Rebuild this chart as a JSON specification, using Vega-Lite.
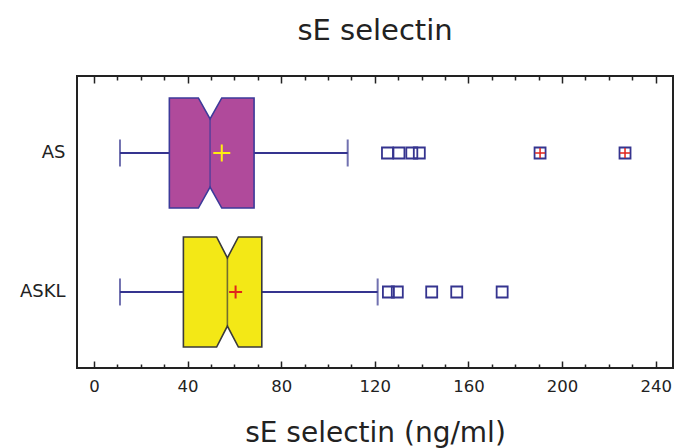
{
  "$schema": "https://vega.github.io/schema/vega-lite/v6.json",
  "width": 596,
  "height": 292,
  "autosize": {"type": "none"},
  "padding": {"left": 77, "top": 76, "right": 3, "bottom": 80},
  "background": "white",
  "title": {"text": "sE selectin", "font": "DejaVu Sans", "fontSize": 29, "fontWeight": "normal", "color": "#222222", "baseline": "alphabetic", "offset": 6, "anchor": "middle"},
  "config": {
    "view": {"stroke": "#222222", "strokeWidth": 2},
    "axis": {"grid": false, "domain": false, "labelFont": "DejaVu Sans", "titleFont": "DejaVu Sans", "labelColor": "#222222", "titleColor": "#222222", "tickColor": "#222222", "tickWidth": 1.5}
  },
  "datasets": {
    "stats": [
      {"group": "AS", "lw": 11.1, "q1": 32.2, "nlo": 44.6, "med": 49.6, "nhi": 54.6, "q3": 68.4, "uw": 108.4, "mean": 54.6},
      {"group": "ASKL", "lw": 11.1, "q1": 38.2, "nlo": 52.4, "med": 57.0, "nhi": 61.7, "q3": 71.7, "uw": 121.2, "mean": 60.5}
    ],
    "outliers": [
      {"group": "AS", "value": 125.4, "kind": "near"},
      {"group": "AS", "value": 130.3, "kind": "near"},
      {"group": "AS", "value": 135.8, "kind": "near"},
      {"group": "AS", "value": 139.0, "kind": "near"},
      {"group": "AS", "value": 190.6, "kind": "far"},
      {"group": "AS", "value": 226.9, "kind": "far"},
      {"group": "ASKL", "value": 125.8, "kind": "near"},
      {"group": "ASKL", "value": 129.6, "kind": "near"},
      {"group": "ASKL", "value": 144.3, "kind": "near"},
      {"group": "ASKL", "value": 155.0, "kind": "near"},
      {"group": "ASKL", "value": 174.4, "kind": "near"}
    ]
  },
  "resolve": {"axis": {"x": "independent"}, "scale": {"stroke": "independent", "color": "independent", "fill": "independent", "size": "independent"}},
  "layer": [
    {
      "data": {"name": "stats"},
      "transform": [{"calculate": "indexof(['AS','ASKL'], datum.group) + 1", "as": "pos"}],
      "mark": {"type": "rule", "color": "#35348f", "strokeWidth": 1.8},
      "encoding": {
        "x": {"field": "lw", "type": "quantitative", "scale": {"domain": [-7.26, 247.4], "nice": false, "zero": false},
          "axis": {"orient": "bottom", "values": [0,10,20,30,40,50,60,70,80,90,100,110,120,130,140,150,160,170,180,190,200,210,220,230,240],
            "labelExpr": "datum.value % 40 === 0 ? datum.label : ''",
            "tickSize": {"condition": {"test": "datum.value % 40 === 0", "value": -7}, "value": -4},
            "labelFontSize": 16.5, "labelBaseline": "alphabetic", "labelPadding": 30, "labelFlush": false,
            "title": "sE selectin (ng/ml)", "titleFontSize": 28, "titleFontWeight": "normal", "titleBaseline": "alphabetic", "titleY": 73}},
        "x2": {"field": "uw"},
        "y": {"field": "pos", "type": "quantitative", "scale": {"domain": [0.446, 2.547], "reverse": true, "nice": false, "zero": false},
          "axis": {"values": [1, 2], "labelExpr": "datum.value == 1 ? 'AS' : 'ASKL'", "ticks": false, "labelFontSize": 18, "labelPadding": 12, "title": null}}
      }
    },
    {
      "data": {"name": "stats"},
      "transform": [
        {"calculate": "indexof(['AS','ASKL'], datum.group) + 1", "as": "pos"},
        {"fold": ["lw", "uw"], "as": ["end", "v"]}
      ],
      "mark": {"type": "tick", "orient": "vertical", "color": "#35348f", "size": 27, "thickness": 2},
      "encoding": {
        "x": {"field": "v", "type": "quantitative", "scale": {"domain": [-7.26, 247.4], "nice": false, "zero": false}, "axis": null},
        "y": {"field": "pos", "type": "quantitative", "scale": {"domain": [0.446, 2.547], "reverse": true, "nice": false, "zero": false},
          "axis": {"values": [1, 2], "labelExpr": "datum.value == 1 ? 'AS' : 'ASKL'", "ticks": false, "labelFontSize": 18, "labelPadding": 12, "title": null}}
      }
    },
    {
      "data": {"name": "stats"},
      "transform": [
        {"calculate": "indexof(['AS','ASKL'], datum.group) + 1", "as": "pos"},
        {"fold": ["q1", "nlo", "med", "nhi", "q3"], "as": ["part", "v"]},
        {"calculate": "datum.pos - 0.396 + (datum.part == 'med' ? 0.151 : 0)", "as": "ytop"},
        {"calculate": "datum.pos + 0.396 - (datum.part == 'med' ? 0.151 : 0)", "as": "ybot"}
      ],
      "mark": {"type": "area", "orient": "vertical", "strokeWidth": 1.6, "fillOpacity": 1, "interpolate": "linear"},
      "encoding": {
        "x": {"field": "v", "type": "quantitative", "scale": {"domain": [-7.26, 247.4], "nice": false, "zero": false}, "axis": null},
        "y": {"field": "ytop", "type": "quantitative", "stack": null, "scale": {"domain": [0.446, 2.547], "reverse": true, "nice": false, "zero": false},
          "axis": {"values": [1, 2], "labelExpr": "datum.value == 1 ? 'AS' : 'ASKL'", "ticks": false, "labelFontSize": 18, "labelPadding": 12, "title": null}},
        "y2": {"field": "ybot"},
        "fill": {"field": "group", "type": "nominal", "scale": {"domain": ["AS", "ASKL"], "range": ["#b04a9b", "#f3e816"]}, "legend": null},
        "stroke": {"field": "group", "type": "nominal", "scale": {"domain": ["AS", "ASKL"], "range": ["#3d3a9a", "#3a3a3a"]}, "legend": null}
      }
    },
    {
      "data": {"name": "stats"},
      "transform": [{"calculate": "indexof(['AS','ASKL'], datum.group) + 1", "as": "pos"}],
      "mark": {"type": "tick", "orient": "vertical", "size": 68, "thickness": 1.6},
      "encoding": {
        "x": {"field": "med", "type": "quantitative", "scale": {"domain": [-7.26, 247.4], "nice": false, "zero": false}, "axis": null},
        "y": {"field": "pos", "type": "quantitative", "scale": {"domain": [0.446, 2.547], "reverse": true, "nice": false, "zero": false},
          "axis": {"values": [1, 2], "labelExpr": "datum.value == 1 ? 'AS' : 'ASKL'", "ticks": false, "labelFontSize": 18, "labelPadding": 12, "title": null}},
        "color": {"field": "group", "type": "nominal", "scale": {"domain": ["AS", "ASKL"], "range": ["#3d3a9a", "#3a3a3a"]}, "legend": null}
      }
    },
    {
      "data": {"name": "stats"},
      "transform": [{"calculate": "indexof(['AS','ASKL'], datum.group) + 1", "as": "pos"}],
      "mark": {"type": "point", "shape": "M-1,0L1,0M0,-1L0,1", "filled": false, "strokeWidth": 2, "opacity": 1},
      "encoding": {
        "x": {"field": "mean", "type": "quantitative", "scale": {"domain": [-7.26, 247.4], "nice": false, "zero": false}, "axis": null},
        "y": {"field": "pos", "type": "quantitative", "scale": {"domain": [0.446, 2.547], "reverse": true, "nice": false, "zero": false},
          "axis": {"values": [1, 2], "labelExpr": "datum.value == 1 ? 'AS' : 'ASKL'", "ticks": false, "labelFontSize": 18, "labelPadding": 12, "title": null}},
        "stroke": {"field": "group", "type": "nominal", "scale": {"domain": ["AS", "ASKL"], "range": ["#ffee10", "#e0241c"]}, "legend": null},
        "size": {"field": "group", "type": "nominal", "scale": {"domain": ["AS", "ASKL"], "range": [289, 169]}, "legend": null}
      }
    },
    {
      "data": {"name": "outliers"},
      "transform": [{"calculate": "indexof(['AS','ASKL'], datum.group) + 1", "as": "pos"}],
      "mark": {"type": "point", "shape": "square", "filled": false, "color": "#35348f", "strokeWidth": 1.8, "size": 121, "opacity": 1},
      "encoding": {
        "x": {"field": "value", "type": "quantitative", "scale": {"domain": [-7.26, 247.4], "nice": false, "zero": false},
          "axis": {"orient": "top", "values": [0,10,20,30,40,50,60,70,80,90,100,110,120,130,140,150,160,170,180,190,200,210,220,230,240],
            "labels": false, "title": null,
            "tickSize": {"condition": {"test": "datum.value % 40 === 0", "value": -7}, "value": -4}}},
        "y": {"field": "pos", "type": "quantitative", "scale": {"domain": [0.446, 2.547], "reverse": true, "nice": false, "zero": false},
          "axis": {"values": [1, 2], "labelExpr": "datum.value == 1 ? 'AS' : 'ASKL'", "ticks": false, "labelFontSize": 18, "labelPadding": 12, "title": null}}
      }
    },
    {
      "data": {"name": "outliers"},
      "transform": [
        {"filter": "datum.kind == 'far'"},
        {"calculate": "indexof(['AS','ASKL'], datum.group) + 1", "as": "pos"}
      ],
      "mark": {"type": "point", "shape": "M-1,0L1,0M0,-1L0,1", "filled": false, "color": "#e0241c", "strokeWidth": 1.5, "size": 100, "opacity": 1},
      "encoding": {
        "x": {"field": "value", "type": "quantitative", "scale": {"domain": [-7.26, 247.4], "nice": false, "zero": false}, "axis": null},
        "y": {"field": "pos", "type": "quantitative", "scale": {"domain": [0.446, 2.547], "reverse": true, "nice": false, "zero": false},
          "axis": {"values": [1, 2], "labelExpr": "datum.value == 1 ? 'AS' : 'ASKL'", "ticks": false, "labelFontSize": 18, "labelPadding": 12, "title": null}}
      }
    }
  ]
}
